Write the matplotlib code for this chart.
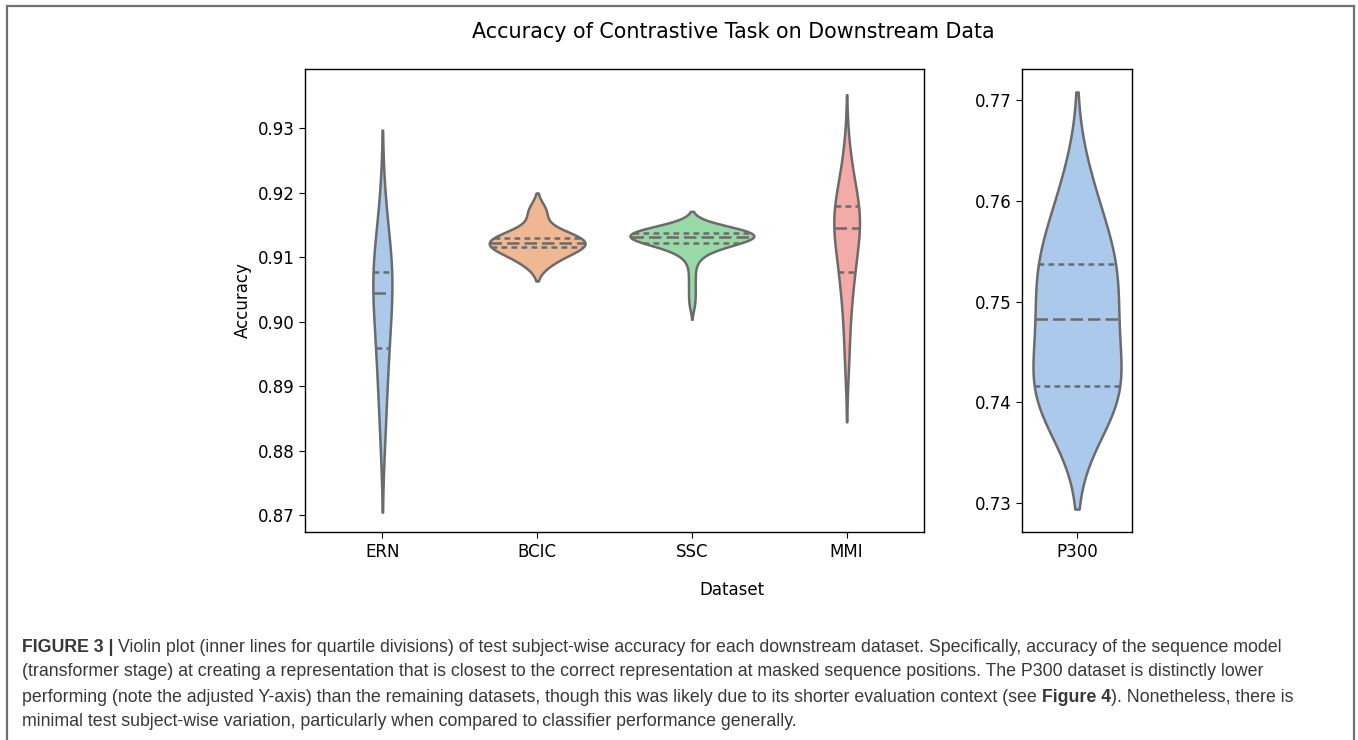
import numpy as np
import pandas as pd
import matplotlib
matplotlib.use("Agg")
import matplotlib.pyplot as plt
import seaborn as sns

# test subject-wise accuracy per downstream dataset (estimated from the figure)
datasets = ["ERN", "BCIC", "SSC", "MMI"]
ern = [0.8832, 0.891, 0.895, 0.899, 0.903, 0.906, 0.907, 0.908, 0.911, 0.917]
bcic = [0.9092, 0.9106, 0.9116, 0.9117, 0.9122, 0.9128, 0.913, 0.914, 0.9171]
ssc = [0.9028, 0.9048, 0.9068, 0.9088, 0.9102, 0.9108, 0.9112, 0.9115,
       0.9118, 0.912, 0.9123, 0.9124, 0.9125, 0.9126, 0.9127, 0.9128,
       0.9129, 0.9129, 0.913, 0.913, 0.9132, 0.9132, 0.9133, 0.9134,
       0.9134, 0.9135, 0.9136, 0.9136, 0.9137, 0.9138, 0.9138, 0.9139,
       0.914, 0.914, 0.9141, 0.9142, 0.9143, 0.9144, 0.9145, 0.9147]
mmi = [0.8935, 0.8985, 0.9025, 0.9055, 0.9072, 0.9079, 0.91, 0.9118,
       0.9132, 0.9143, 0.9147, 0.9153, 0.9158, 0.9163, 0.9178, 0.9183,
       0.9192, 0.9208, 0.9232, 0.9262]
p300 = [0.7385, 0.7398, 0.741, 0.7418, 0.744, 0.747, 0.7495, 0.751,
        0.7533, 0.755, 0.757, 0.7617]

title = "Accuracy of Contrastive Task on Downstream Data"
caption_lines = [
    [("FIGURE 3 | ", True),
     ("Violin plot (inner lines for quartile divisions) of test subject-wise accuracy for each downstream dataset. Specifically, accuracy of the sequence model", False)],
    [("(transformer stage) at creating a representation that is closest to the correct representation at masked sequence positions. The P300 dataset is distinctly lower", False)],
    [("performing (note the adjusted Y-axis) than the remaining datasets, though this was likely due to its shorter evaluation context (see ", False),
     ("Figure 4", True), ("). Nonetheless, there is", False)],
    [("minimal test subject-wise variation, particularly when compared to classifier performance generally.", False)],
]

df = pd.DataFrame({
    "Dataset": np.repeat(datasets, [len(ern), len(bcic), len(ssc), len(mmi)]),
    "Accuracy": np.concatenate([ern, bcic, ssc, mmi]),
})
df_p300 = pd.DataFrame({"Dataset": ["P300"] * len(p300), "Accuracy": p300})

plt.rcParams["font.size"] = 12
plt.rcParams["axes.linewidth"] = 1.0
plt.rcParams["xtick.major.size"] = 4.2
plt.rcParams["ytick.major.size"] = 4.2

pal = sns.color_palette("pastel")
edge = "#6b6b6b"

fig = plt.figure(figsize=(13.58, 7.40), dpi=100)
ax = fig.add_axes([305 / 1358, 1 - 532 / 740, 619 / 1358, 463 / 740])
ax2 = fig.add_axes([1022 / 1358, 1 - 532 / 740, 110 / 1358, 463 / 740])

sns.violinplot(data=df, x="Dataset", y="Accuracy", hue="Dataset", palette=pal[:4],
               inner="quart", linewidth=1.8, linecolor=edge, legend=False,
               common_norm=True, ax=ax)
sns.violinplot(data=df_p300, x="Dataset", y="Accuracy", hue="Dataset", palette=pal[:1],
               inner="quart", linewidth=1.8, linecolor=edge, legend=False,
               common_norm=True, ax=ax2)

# quartile lines: short dashes, median: longer dashes
for a in (ax, ax2):
    for i, ln in enumerate(a.lines):
        if i % 3 == 1:
            ln.set_linestyle((0, (5.0, 2.0)))
        else:
            ln.set_linestyle((0, (2.3, 1.7)))

ax.set_ylim(0.8674, 0.9392)
ax2.set_ylim(0.7271, 0.7731)
ax.set_xlabel("")
ax.set_ylabel("Accuracy", fontsize=12)
ax.set_yticks([0.87, 0.88, 0.89, 0.90, 0.91, 0.92, 0.93])
ax.set_yticklabels(["0.87", "0.88", "0.89", "0.90", "0.91", "0.92", "0.93"])
ax2.set_xlabel("")
ax2.set_ylabel("")
ax2.set_yticks([0.73, 0.74, 0.75, 0.76, 0.77])
ax2.set_yticklabels(["0.73", "0.74", "0.75", "0.76", "0.77"])
for a in (ax, ax2):
    a.tick_params(labelsize=12)

fig.text(733 / 1358, 1 - 32 / 740, title, ha="center", va="center", fontsize=14.9)
fig.text(732 / 1358, 1 - 590 / 740, "Dataset", ha="center", va="center", fontsize=12)

# outer frame of the figure panel
frame_kw = dict(color="#707070", lw=1.6, transform=fig.transFigure, clip_on=False)
fig.add_artist(plt.Line2D([7 / 1358, 1354 / 1358], [1 - 6 / 740, 1 - 6 / 740], **frame_kw))
fig.add_artist(plt.Line2D([7 / 1358, 7 / 1358], [1 - 6 / 740, 0], **frame_kw))
fig.add_artist(plt.Line2D([1354 / 1358, 1354 / 1358], [1 - 6 / 740, 0], **frame_kw))

# caption, with bold pieces placed one after another
cap_font = ["Liberation Sans Narrow", "Liberation Sans", "DejaVu Sans"]
renderer = fig.canvas.get_renderer()
line_y = [647, 672, 697, 721]
for pieces, yy in zip(caption_lines, line_y):
    x = 22
    for txt, bold in pieces:
        t = fig.text(x / 1358, 1 - yy / 740, txt, ha="left", va="center",
                     fontsize=12.8, color="#383838", family=cap_font,
                     fontweight="bold" if bold else "normal")
        bb = t.get_window_extent(renderer=renderer)
        x += bb.width

fig.savefig("out.png", dpi=100)
